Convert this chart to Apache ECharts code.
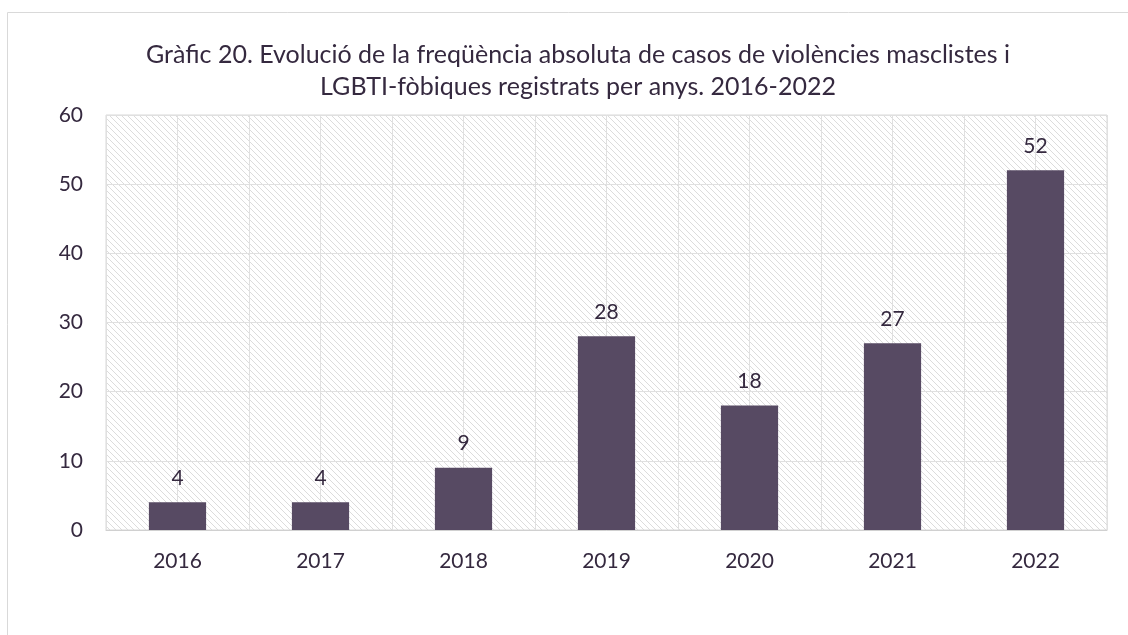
<!DOCTYPE html>
<html>
<head>
<meta charset="utf-8">
<script src="https://cdn.jsdelivr.net/npm/echarts@6/dist/echarts.min.js"></script>
<style>
html,body{margin:0;padding:0;background:#fff;}
#chart{width:1128px;height:635px;}
</style>
</head>
<body>
<div id="chart"></div>
<script>
var years = ['2016','2017','2018','2019','2020','2021','2022'];
var cases = [4, 4, 9, 28, 18, 27, 52];
var titleLines = [
	'Gràfic 20. Evolució de la freqüència absoluta de casos de violències masclistes i',
	'LGBTI-fòbiques registrats per anys. 2016-2022'
];

// diagonal hatch for plot background
function makeHatch(){
	var c = document.createElement('canvas');
	c.width = 6; c.height = 6;
	var ctx = c.getContext('2d');
	ctx.fillStyle = '#ffffff';
	ctx.fillRect(0,0,6,6);
	ctx.strokeStyle = '#dcdcdc';
	ctx.lineWidth = 1;
	ctx.beginPath();
	ctx.moveTo(-1,-1); ctx.lineTo(7,7);
	ctx.moveTo(-1,5); ctx.lineTo(1,7);
	ctx.moveTo(5,-1); ctx.lineTo(7,1);
	ctx.stroke();
	return c;
}

var textColor = '#35293f';
var font = 'Lato';
var chartObj = echarts.init(document.getElementById('chart'));
var option = {
	animation: false,
	textStyle: {fontFamily: font},
	title: {
		text: titleLines.join('\n'),
		left: 573,
		textAlign: 'center',
		top: 34,
		textStyle: {fontFamily: font, fontSize: 25, fontWeight: 'normal', color: textColor, lineHeight: 32}
	},
	graphic: [{
		type: 'rect',
		shape: {x: 7.5, y: 12.5, width: 1200, height: 700},
		style: {fill: null, stroke: '#d9d9d9', lineWidth: 1},
		silent: true
	}],
	grid: {
		left: 106, right: 21, top: 115, bottom: 105,
		show: true,
		backgroundColor: {image: makeHatch(), repeat: 'repeat'},
		borderColor: '#d9d9d9',
		borderWidth: 1
	},
	xAxis: [
		{
			type: 'category',
			data: years,
			axisLine: {lineStyle: {color: '#d0d0d0'}},
			axisTick: {show: false},
			axisLabel: {color: textColor, fontSize: 21, margin: 21, fontFamily: font},
			splitLine: {show: false}
		},
		{
			type: 'value',
			min: 0, max: 14, interval: 1,
			position: 'bottom',
			axisLine: {show: false},
			axisTick: {show: false},
			axisLabel: {show: false},
			splitLine: {show: true, lineStyle: {color: '#e0e0e0', width: 1}}
		}
	],
	yAxis: {
		type: 'value',
		min: 0, max: 60, interval: 10,
		axisLine: {show: false},
		axisTick: {show: false},
		axisLabel: {color: textColor, fontSize: 21, margin: 23, fontFamily: font},
		splitLine: {lineStyle: {color: '#e0e0e0', width: 1}}
	},
	series: [{
		type: 'bar',
		xAxisIndex: 0,
		data: cases,
		barWidth: '40%',
		itemStyle: {color: '#574a63'},
		label: {show: true, position: 'top', distance: 14, color: textColor, fontSize: 21, fontFamily: font}
	}]
};
chartObj.setOption(option);
</script>
</body>
</html>
